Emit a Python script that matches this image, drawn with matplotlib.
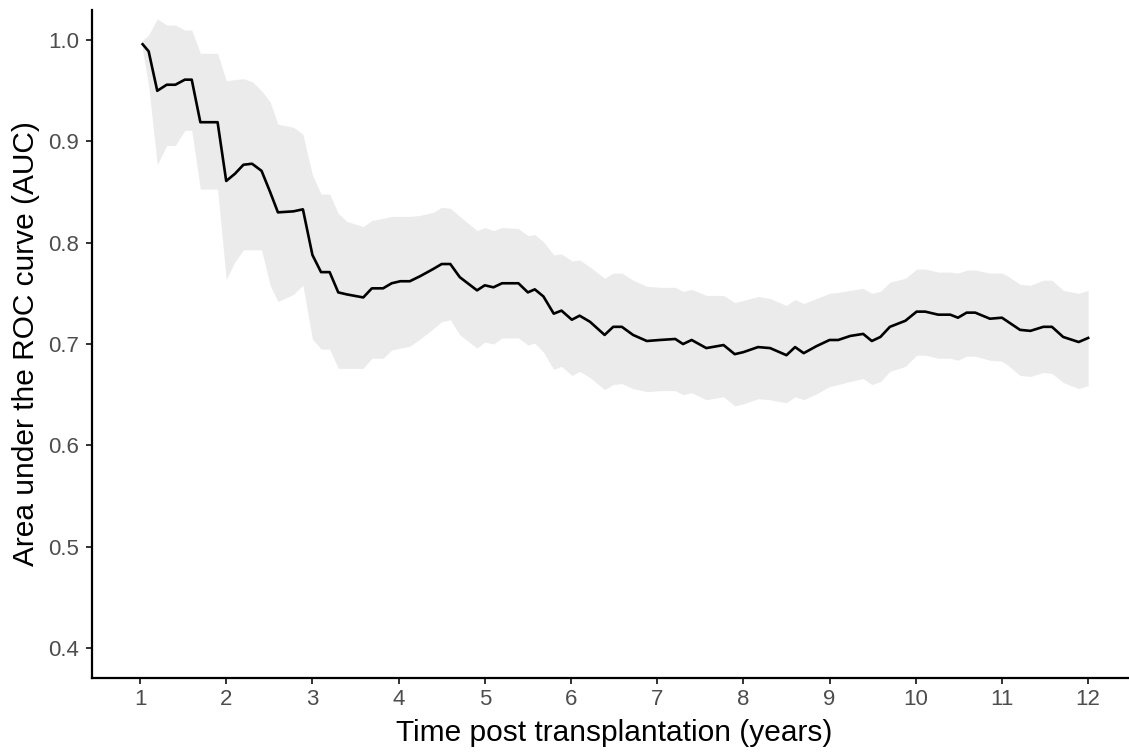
import numpy as np
import matplotlib
matplotlib.use("Agg")
import matplotlib.pyplot as plt

plt.rcParams['font.family'] = ['Liberation Sans', 'DejaVu Sans']

# ── data ────────────────────────────────────────────────────────────────────
years = [1.03, 1.10, 1.20, 1.31, 1.41, 1.52, 1.60, 1.70, 1.90, 2.00,
         2.10, 2.20, 2.30, 2.41, 2.51, 2.60, 2.78, 2.89, 3.00, 3.10,
         3.20, 3.30, 3.40, 3.59, 3.69, 3.82, 3.92, 4.02, 4.13, 4.25,
         4.40, 4.50, 4.60, 4.71, 4.91, 5.00, 5.10, 5.20, 5.39, 5.50,
         5.58, 5.68, 5.80, 5.89, 6.01, 6.10, 6.22, 6.39, 6.49, 6.59,
         6.72, 6.88, 7.03, 7.21, 7.30, 7.40, 7.57, 7.77, 7.90, 8.00,
         8.17, 8.31, 8.50, 8.60, 8.70, 8.85, 9.00, 9.10, 9.24, 9.39,
         9.49, 9.59, 9.70, 9.88, 10.01, 10.11, 10.26, 10.40, 10.49, 10.59,
         10.69, 10.86, 11.00, 11.07, 11.21, 11.33, 11.48, 11.58, 11.71, 11.89,
         12.00]
auc = [0.996, 0.989, 0.950, 0.956, 0.956, 0.961, 0.961, 0.919, 0.919, 0.861,
       0.868, 0.877, 0.878, 0.871, 0.850, 0.830, 0.831, 0.833, 0.788, 0.771,
       0.771, 0.751, 0.749, 0.746, 0.755, 0.755, 0.760, 0.762, 0.762, 0.767,
       0.774, 0.779, 0.779, 0.766, 0.753, 0.758, 0.756, 0.760, 0.760, 0.751,
       0.754, 0.747, 0.730, 0.733, 0.724, 0.728, 0.722, 0.709, 0.717, 0.717,
       0.709, 0.703, 0.704, 0.705, 0.700, 0.704, 0.696, 0.699, 0.690, 0.692,
       0.697, 0.696, 0.689, 0.697, 0.691, 0.698, 0.704, 0.704, 0.708, 0.710,
       0.703, 0.707, 0.717, 0.723, 0.732, 0.732, 0.729, 0.729, 0.726, 0.731,
       0.731, 0.725, 0.726, 0.722, 0.714, 0.713, 0.717, 0.717, 0.707, 0.702,
       0.706]
auc_lo = [0.990, 0.955, 0.877, 0.896, 0.896, 0.911, 0.911, 0.853, 0.853, 0.764,
          0.781, 0.793, 0.793, 0.793, 0.758, 0.742, 0.749, 0.758, 0.705, 0.695,
          0.695, 0.676, 0.676, 0.676, 0.686, 0.686, 0.694, 0.696, 0.698, 0.705,
          0.715, 0.722, 0.724, 0.709, 0.696, 0.702, 0.700, 0.706, 0.706, 0.699,
          0.701, 0.692, 0.675, 0.678, 0.669, 0.673, 0.667, 0.655, 0.660, 0.661,
          0.656, 0.653, 0.654, 0.654, 0.650, 0.652, 0.645, 0.648, 0.639, 0.641,
          0.646, 0.645, 0.642, 0.648, 0.645, 0.651, 0.658, 0.660, 0.663, 0.666,
          0.660, 0.663, 0.673, 0.678, 0.689, 0.689, 0.686, 0.686, 0.684, 0.688,
          0.688, 0.684, 0.683, 0.679, 0.669, 0.668, 0.672, 0.671, 0.662, 0.656,
          0.659]
auc_hi = [1.000, 1.005, 1.021, 1.015, 1.015, 1.010, 1.010, 0.987, 0.987, 0.960,
          0.961, 0.962, 0.959, 0.950, 0.939, 0.917, 0.914, 0.907, 0.867, 0.848,
          0.848, 0.829, 0.821, 0.816, 0.822, 0.824, 0.826, 0.826, 0.826, 0.827,
          0.830, 0.835, 0.834, 0.826, 0.812, 0.815, 0.812, 0.815, 0.814, 0.807,
          0.808, 0.801, 0.788, 0.789, 0.782, 0.783, 0.776, 0.765, 0.770, 0.770,
          0.763, 0.757, 0.756, 0.756, 0.752, 0.754, 0.748, 0.748, 0.741, 0.743,
          0.747, 0.745, 0.738, 0.744, 0.740, 0.745, 0.750, 0.751, 0.753, 0.755,
          0.750, 0.752, 0.761, 0.765, 0.774, 0.774, 0.771, 0.771, 0.770, 0.773,
          0.773, 0.770, 0.770, 0.767, 0.759, 0.758, 0.763, 0.763, 0.753, 0.750,
          0.753]

x_ticks = list(range(1, 13))
y_ticks = [0.4, 0.5, 0.6, 0.7, 0.8, 0.9, 1.0]

# ── plot (ggplot theme_classic look) ───────────────────────────────────────
fig = plt.figure(figsize=(11.29, 7.52), dpi=100)
ax = fig.add_axes([0.0818, 0.098, 0.924, 0.889])

ax.fill_between(years, auc_lo, auc_hi, color='#EBEBEB', linewidth=0)
ax.plot(years, auc, color='black', linewidth=1.9)

ax.set_xlim(0.447, 12.55)
ax.set_ylim(0.37, 1.03)
ax.set_xticks(x_ticks)
ax.set_yticks(y_ticks)
ax.set_yticklabels([f'{v:.1f}' for v in y_ticks])

for side in ['top', 'right']:
    ax.spines[side].set_visible(False)
for side in ['left', 'bottom']:
    ax.spines[side].set_linewidth(1.6)
    ax.spines[side].set_color('black')

ax.tick_params(axis='both', direction='out', length=4.5, width=1.4,
               color='#333333', labelcolor='#4D4D4D', labelsize=16)
ax.tick_params(axis='x', pad=3)
ax.tick_params(axis='y', pad=5)

ax.set_xlabel('Time post transplantation (years)', fontsize=21.5, labelpad=7)
ax.set_ylabel('Area under the ROC curve (AUC)', fontsize=21.5, labelpad=6)

fig.savefig('out.png', dpi=100)
